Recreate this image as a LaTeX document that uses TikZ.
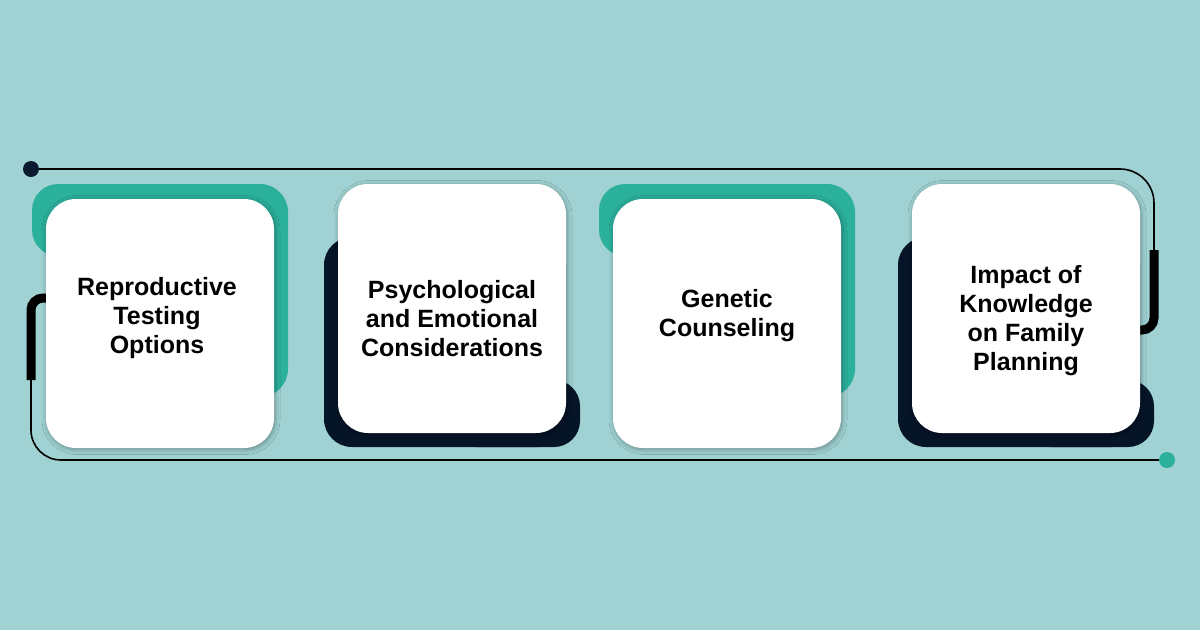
\documentclass[tikz,border=0pt]{standalone}
\usepackage{fontspec}
\setmainfont{Liberation Sans}
\usepackage{tikz}
\usetikzlibrary{shadows.blur}
\definecolor{bgteal}{RGB}{160,210,211}
\definecolor{cardteal}{RGB}{43,176,156}
\definecolor{cardnavy}{RGB}{6,20,40}
\definecolor{dotnavy}{RGB}{11,26,46}
\tikzset{
  card/.style={fill=white, rounded corners=30pt, minimum width=228pt, minimum height=249pt,
    inner sep=0pt, blur shadow={shadow xshift=1pt, shadow yshift=-1.5pt, shadow blur radius=5pt, shadow opacity=35}},
  cardtext/.style={align=center, inner sep=0pt, font=\fontsize{25}{29}\selectfont\bfseries},
  wire/.style={line width=1.6pt, color=black, rounded corners=34pt},
  thickwire/.style={line width=9pt, color=black, rounded corners=12pt},
  dot/.style={circle, inner sep=0pt, minimum size=16pt}
}
\begin{document}
\begin{tikzpicture}[x=1pt,y=1pt,yscale=-1,xscale=1]
\useasboundingbox (0,0) rectangle (1200,630);
\fill[bgteal] (0,0) rectangle (1200,630);
% Dots
\node[dot, fill=dotnavy] (start) at (31,169) {};
\node[dot, fill=cardteal] (stop) at (1167,460) {};
% Wire
\coordinate (topright) at (1154,169);
\coordinate (rightup) at (1154,250);
\coordinate (rightdown) at (1154,330);
\coordinate (rightend) at (1125,330);
\coordinate (leftstart) at (60,298);
\coordinate (leftup) at (31,298);
\coordinate (leftdown) at (31,380);
\coordinate (bottomleft) at (31,460);
\draw[wire] (start) -- (topright) -- (rightup);
\draw[thickwire] (rightup) -- (rightdown) -- (rightend);
\draw[thickwire] (leftstart) -- (leftup) -- (leftdown);
\draw[wire, rounded corners=30pt] (leftdown) -- (bottomleft) -- (stop);
% Back shapes
\fill[cardteal] (46,184) [rounded corners=28pt] rectangle (288,397);
\fill[cardteal] (32,184) [rounded corners=26pt] rectangle (120,256);
\fill[cardnavy] (324,237) [rounded corners=28pt] rectangle (566,447);
\fill[cardnavy] (450,380) [rounded corners=26pt] rectangle (580,447);
\fill[cardteal] (613,184) [rounded corners=28pt] rectangle (855,397);
\fill[cardteal] (599,184) [rounded corners=26pt] rectangle (687,256);
\fill[cardnavy] (898,237) [rounded corners=28pt] rectangle (1140,447);
\fill[cardnavy] (1024,380) [rounded corners=26pt] rectangle (1154,447);
% Cards
\node[card] (c1) at (160,323.5) {};
\node[card] (c2) at (452,308.5) {};
\node[card] (c3) at (727,323.5) {};
\node[card] (c4) at (1026,308.5) {};
% Text Node
\node[cardtext] (t1) at (157,318.5) {Reproductive\\Testing\\Options};
% Text Node
\node[cardtext] (t2) at (452,318.5) {Psychological\\and Emotional\\Considerations};
% Text Node
\node[cardtext] (t3) at (727,316) {Genetic\\Counseling};
% Text Node
\node[cardtext] (t4) at (1026,321) {Impact of\\Knowledge\\on Family\\Planning};
\end{tikzpicture}
\end{document}
